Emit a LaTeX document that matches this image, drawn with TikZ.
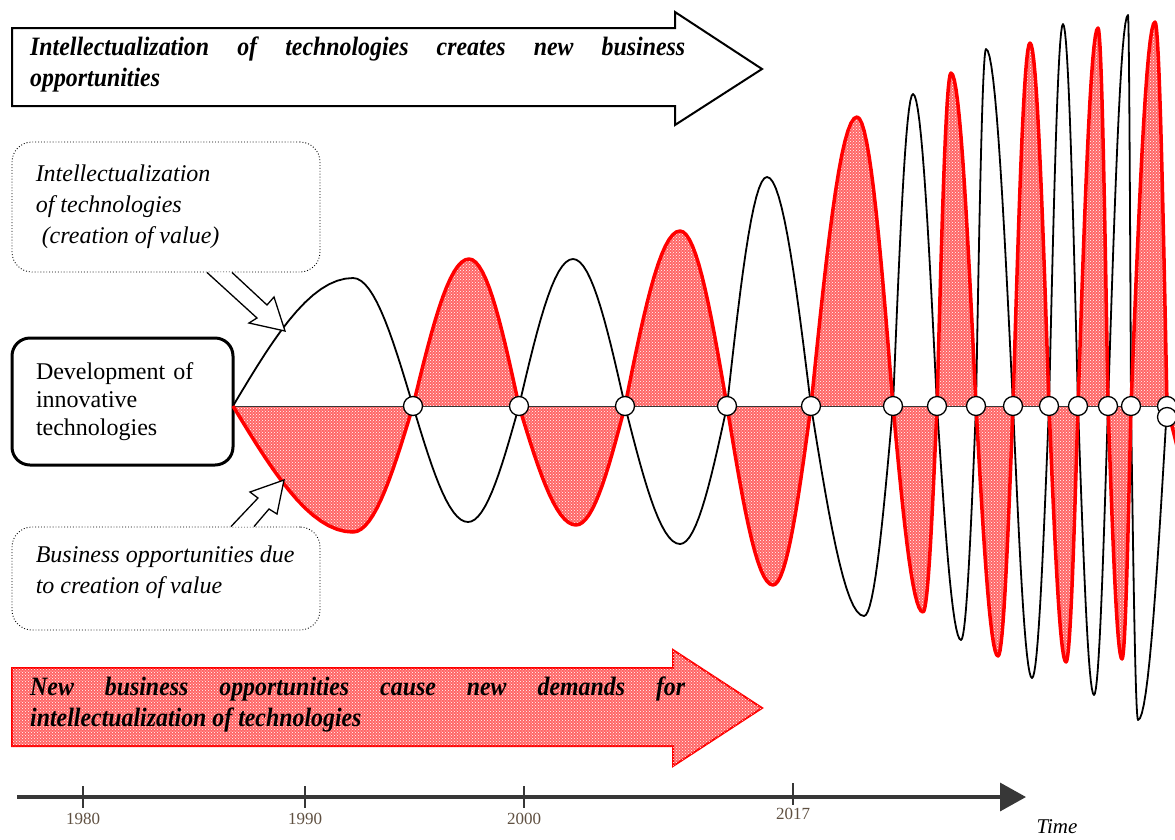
\documentclass[tikz,border=0pt]{standalone}
\usepackage{fontspec}
\setmainfont{Liberation Serif}
\newfontfamily\bannerfont[FakeStretch=0.9]{Liberation Serif}
\usetikzlibrary{arrows.meta, patterns, calc, positioning}

\definecolor{yearbrown}{RGB}{95,80,65}
\definecolor{axisgray}{RGB}{55,55,55}

\tikzset{
  hatched/.style={fill=red!60, postaction={pattern=crosshatch dots, pattern color=white}},
  wave/.style={line width=1.8pt, line join=round},
  redwave/.style={wave, draw=red, line width=3.5pt},
  knot/.style={circle, draw, fill=white, line width=1.3pt, minimum size=19pt, inner sep=0pt},
  notebox/.style={draw, dotted, line width=0.9pt, rounded corners=20pt, minimum width=308pt},
  notetext/.style={inner sep=0pt, align=left, font=\itshape\fontsize{24}{31}\selectfont},
  mainbox/.style={draw, line width=3pt, rounded corners=18pt, inner xsep=24pt,
                  text width=173pt, align=left, font=\fontsize{24}{28}\selectfont},
  banner/.style={text width=655pt, align=justify, inner sep=0pt, anchor=north west,
                 font=\bannerfont\bfseries\itshape\fontsize{26.5}{31}\selectfont},
  hollowarrow/.style={draw, line width=1.3pt, fill=white, line join=miter},
  year/.style={text=yearbrown, font=\fontsize{17}{17}\selectfont}
}

\begin{document}
\begin{tikzpicture}[x=1pt, y=-1pt]
  \useasboundingbox (0,0) rectangle (1175,839);

  % banners
  \draw[line width=2pt, fill=white] (12,28) -- (675,28) -- (675,12) -- (762,69)
       -- (675,125) -- (675,106) -- (12,106) -- cycle;
  \node[banner] (toptext) at (30,37)
       {Intellectualization of technologies creates new business\linebreak opportunities};
  \draw[draw=red, line width=2pt, hatched] (12,668) -- (673,668) -- (673,650) -- (762,708)
       -- (673,766) -- (673,746) -- (12,746) -- cycle;
  \node[banner] (bottext) at (30,677)
       {New business opportunities cause new demands for\linebreak intellectualization of technologies};

  % boxes
  \node[mainbox, minimum height=127pt] (devbox) at (122.5,401.5)
       {Development of\\innovative\\technologies};
  \node[notebox, minimum height=130pt] (valuebox) at (166,207) {};
  \node[notetext, right=24pt of valuebox.west] (valuetext)
       {Intellectualization\\of technologies\\\hspace*{6pt}(creation of value)};
  \node[notebox, minimum height=103pt] (bizbox) at (166,578.5) {};
  \node[notetext, right=24pt of bizbox.west, yshift=6pt] (biztext)
       {Business opportunities due\\to creation of value};

  \coordinate (origin) at (233,406);

  % waves
  \begin{scope}
    \clip (0,0) rectangle (1175,839);
    \foreach \la/\lb/\rx/\ry in {
        233/413/353/-126, 413/519/469/147, 519/625/576/-119, 625/727/680/175,
        727/811/773/-179, 811/893/857/289, 893/937/923/-206, 937/976/951/333,
        976/1013/998/-250, 1013/1049/1030/363, 1049/1078/1066/-256, 1078/1108/1098/378,
        1108/1131/1122/-253, 1131/1167/1155/384, 1167/1280/1225/-150}
    {
      \fill[hatched] (\la,406) -- plot[domain=0:90, samples=16] ({\la+(\rx-\la)*\x/90},{406-\ry*sin(\x)})
           -- plot[domain=90:180, samples=16] ({\rx+(\lb-\rx)*(\x-90)/90},{406-\ry*sin(\x)}) -- cycle;
    }
    \draw[axisgray, line width=1pt] (origin) -- (1175,406);
    \foreach \la/\lb/\kx/\ky in {
        233/413/353/128, 413/519/468/-116, 519/625/573/147, 625/727/680/-138,
        727/811/767/229, 811/893/864/-210, 893/937/913/312, 937/976/961/-234,
        976/1013/986/357, 1013/1049/1032/-272, 1049/1078/1063/382, 1078/1108/1094/-289,
        1108/1131/1128/391, 1131/1167/1138/-314}
    {
      \draw[wave] plot[domain=0:90, samples=16] ({\la+(\kx-\la)*\x/90},{406-\ky*sin(\x)})
           -- plot[domain=90:180, samples=16] ({\kx+(\lb-\kx)*(\x-90)/90},{406-\ky*sin(\x)});
    }
    \foreach \la/\lb/\rx/\ry in {
        233/413/353/-126, 413/519/469/147, 519/625/576/-119, 625/727/680/175,
        727/811/773/-179, 811/893/857/289, 893/937/923/-206, 937/976/951/333,
        976/1013/998/-250, 1013/1049/1030/363, 1049/1078/1066/-256, 1078/1108/1098/378,
        1108/1131/1122/-253, 1131/1167/1155/384, 1167/1280/1225/-150}
    {
      \draw[redwave] plot[domain=0:90, samples=16] ({\la+(\rx-\la)*\x/90},{406-\ry*sin(\x)})
           -- plot[domain=90:180, samples=16] ({\rx+(\lb-\rx)*(\x-90)/90},{406-\ry*sin(\x)});
    }
  \end{scope}

  % crossing points
  \foreach \cx in {413,519,625,727,811,893,937,976,1013,1049,1078,1108,1131,1167}
    \node[knot] (c\cx) at (\cx,406) {};
  \node[knot] (clast) at (1167,417) {};

  % pointers
  \coordinate (valtip) at (285,331);
  \coordinate (biztip) at (284,480);
  \draw[hollowarrow] ($(valuebox.south)+(41,0)$) -- (257,318) -- (249,323) -- (valtip)
       -- (274,297) -- (267,305) -- ($(valuebox.south)+(66,0)$);
  \draw[hollowarrow] ($(bizbox.north)+(65,0)$) -- (258,498) -- (250,492) -- (biztip)
       -- (277,514) -- (269,509) -- ($(bizbox.north)+(88,0)$);

  % time axis
  \coordinate (t0) at (17,797);
  \coordinate (t1) at (1026,797);
  \draw[axisgray, line width=3.5pt, -{Triangle[length=26pt, width=28pt]}] (t0) -- (t1);
  \foreach \tx/\yr in {83/1980, 305/1990, 524/2000} {
    \draw[axisgray, line width=1.8pt] (\tx,786) -- (\tx,808);
    \node[year] (y\yr) at (\tx,819) {\yr};
  }
  \draw[axisgray, line width=1.8pt] (793,783) -- (793,805);
  \node[year] (y2017) at (793,814) {2017};
  \node[font=\itshape\fontsize{21}{21}\selectfont] (timelbl) at (1057,827) {Time};
\end{tikzpicture}
\end{document}
